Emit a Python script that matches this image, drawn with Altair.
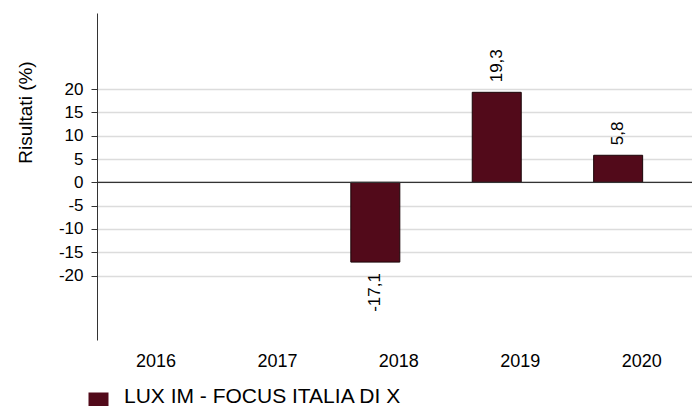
import altair as alt
import pandas as pd

years = [2016, 2017, 2018, 2019, 2020]
values = [None, None, -17.1, 19.3, 5.8]
labels = ["", "", "-17,1", "19,3", "5,8"]
series_name = "LUX IM - FOCUS ITALIA DI X"
y_ticks = [-20, -15, -10, -5, 0, 5, 10, 15, 20]

BAR = "#520a1a"
FONT = "Liberation Sans"

df = pd.DataFrame({"year": years, "value": values, "label": labels,
                   "series": [series_name] * len(years)})

x_enc = alt.X(
    "year:Q",
    scale=alt.Scale(domain=[2015.749, 2020.567], nice=False, zero=False),
    axis=alt.Axis(values=years, format="d", labelOffset=23, ticks=False, domain=False,
                  grid=False, labelFontSize=18, labelPadding=12, labelFlush=False,
                  labelColor="#000", title=None),
)
y_scale = alt.Scale(domain=[-33.8, 36.3], nice=False, zero=False)

bars = alt.Chart(df).mark_bar(size=49, stroke="#1a0508", strokeWidth=1).encode(
    x=x_enc,
    y=alt.Y(
        "value:Q",
        scale=y_scale,
        axis=alt.Axis(values=y_ticks, labelExpr="datum.value + ''",
                      title="Risultati (%)", titleFontSize=19,
                      titleFontWeight="normal", titleColor="#000", titleAngle=270,
                      titleX=-72, titleY=99, titleAlign="center", titleBaseline="middle",
                      labelFontSize=17, labelColor="#000", labelPadding=8,
                      tickSize=6, tickColor="#333", domainColor="#333", domainWidth=1,
                      gridColor="#dcdcdc", gridWidth=1.5),
    ),
    color=alt.Color("series:N", scale=alt.Scale(domain=[series_name], range=[BAR]),
                    legend=alt.Legend(orient="none", legendX=-9, legendY=379, title=None,
                                      symbolType="square", symbolSize=400,
                                      symbolStrokeWidth=0, labelFontSize=21,
                                      labelOffset=15, padding=0, labelColor="#000",
                                      labelBaseline="alphabetic", labelLimit=500)),
)

zero = alt.Chart(pd.DataFrame({"z": [0]})).mark_rule(color="#333", strokeWidth=1.2).encode(
    y=alt.Y("z:Q", scale=y_scale)
)

pos_text = alt.Chart(df).transform_filter("datum.value > 0").mark_text(
    angle=270, align="left", baseline="middle", dx=10, fontSize=17, color="#000"
).encode(x=alt.X("year:Q"), y=alt.Y("value:Q"), text="label:N")

neg_text = alt.Chart(df).transform_filter("datum.value < 0").mark_text(
    angle=270, align="right", baseline="middle", dx=-11, fontSize=17, color="#000"
).encode(x=alt.X("year:Q"), y=alt.Y("value:Q"), text="label:N")

chart = alt.layer(bars, zero, pos_text, neg_text).properties(
    width=595, height=327,
    autosize=alt.AutoSizeParams(type="none"),
    padding={"left": 89, "top": 5, "right": 0, "bottom": 70},
).configure(font=FONT).configure_view(stroke=None)

chart.save("out.html", embed_options={"renderer": "svg", "actions": False})
